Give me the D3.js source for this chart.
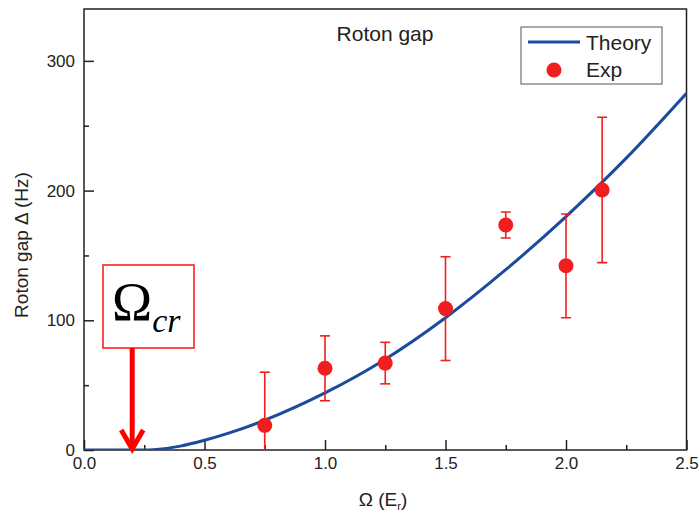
<html>
<head>
<script src="https://d3js.org/d3.v7.min.js"></script>
<style>
  body { margin: 0; background: #fff; }
  text { font-family: Arial, "Liberation Sans", sans-serif; fill: #222; }
</style>
</head>
<body>
<div id="output"></div>
<script>
    var width = 700, height = 518;
    var margin = {left: 84, right: 13.5, top: 9, bottom: 68};

    // experiment: omega, gap, error
    var expOmega = [0.75, 1.0, 1.25, 1.5, 1.75, 2.0, 2.15];
    var expGap   = [19, 63, 67, 109, 173.5, 142, 200.5];
    var expErr   = [41, 25, 16, 40, 10, 40, 56];

    // theory curve
    var thOmega = [0, 0.25, 0.3, 0.4, 0.5, 0.6, 0.75, 1.0, 1.25, 1.5, 1.75, 2.0, 2.25, 2.5];
    var thGap   = [0, 0, 0.4, 3, 7.5, 13, 23, 44, 70, 102, 139, 180, 225, 275];

    var xTicks = [0, 0.5, 1.0, 1.5, 2.0, 2.5];
    var xMinor = [0.25, 0.75, 1.25, 1.75, 2.25];
    var yTicks = [0, 100, 200, 300];
    var yMinor = [50, 150, 250];

    var omegaCr = 0.2;

    var blue = '#1a4b9c';
    var red = '#f01e1e';

    var svg = d3.select('#output').append('svg')
        .attr('width', width)
        .attr('height', height);

    var x = d3.scaleLinear().domain([0, 2.5]).range([margin.left, width - margin.right]);
    var y = d3.scaleLinear().domain([0, 340]).range([height - margin.bottom, margin.top]);

    svg.append('clipPath').attr('id', 'plot')
        .append('rect')
        .attr('x', x(0)).attr('y', y(340))
        .attr('width', x(2.5) - x(0)).attr('height', y(0) - y(340));

    // axes with inward ticks
    var xAxis = svg.append('g').attr('transform', 'translate(0,' + y(0) + ')')
        .call(d3.axisBottom(x).tickValues(xTicks).tickFormat(d3.format('.1f')).tickSizeInner(-10).tickSizeOuter(0).tickPadding(16));
    xAxis.selectAll('.tick').data(xMinor, function(d) { return d; });
    svg.append('g').attr('transform', 'translate(0,' + y(0) + ')')
        .call(d3.axisBottom(x).tickValues(xMinor).tickFormat('').tickSizeInner(-5).tickSizeOuter(0))
        .select('.domain').remove();

    var yAxis = svg.append('g').attr('transform', 'translate(' + x(0) + ',0)')
        .call(d3.axisLeft(y).tickValues(yTicks).tickSizeInner(-10).tickSizeOuter(0).tickPadding(9));
    svg.append('g').attr('transform', 'translate(' + x(0) + ',0)')
        .call(d3.axisLeft(y).tickValues(yMinor).tickFormat('').tickSizeInner(-5).tickSizeOuter(0))
        .select('.domain').remove();

    svg.selectAll('.tick line').attr('stroke', '#222').attr('stroke-width', 1.5);
    svg.selectAll('.tick text').style('font-size', '17px').attr('fill', '#222');
    xAxis.selectAll('.tick text').attr('dy', '0.2em');

    // frame
    svg.append('rect')
        .attr('x', x(0)).attr('y', y(340))
        .attr('width', x(2.5) - x(0)).attr('height', y(0) - y(340))
        .attr('fill', 'none').attr('stroke', '#222').attr('stroke-width', 1.5);
    svg.selectAll('.domain').remove();

    var plot = svg.append('g').attr('clip-path', 'url(#plot)');

    // theory
    var line = d3.line()
        .x(function(d, i) { return x(thOmega[i]); })
        .y(function(d) { return y(d); })
        .curve(d3.curveMonotoneX);
    plot.append('path')
        .attr('d', line(thGap))
        .attr('fill', 'none')
        .attr('stroke', blue)
        .attr('stroke-width', 3);

    // error bars
    var bars = plot.selectAll('.err').data(expGap).enter().append('g');
    bars.append('line')
        .attr('x1', function(d, i) { return x(expOmega[i]); })
        .attr('x2', function(d, i) { return x(expOmega[i]); })
        .attr('y1', function(d, i) { return y(d - expErr[i]); })
        .attr('y2', function(d, i) { return y(d + expErr[i]); })
        .attr('stroke', red).attr('stroke-width', 1.6);
    [1, -1].forEach(function(s) {
        bars.append('line')
            .attr('x1', function(d, i) { return x(expOmega[i]) - 5; })
            .attr('x2', function(d, i) { return x(expOmega[i]) + 5; })
            .attr('y1', function(d, i) { return y(d + s * expErr[i]); })
            .attr('y2', function(d, i) { return y(d + s * expErr[i]); })
            .attr('stroke', red).attr('stroke-width', 1.6);
    });
    plot.selectAll('.pt').data(expGap).enter().append('circle')
        .attr('cx', function(d, i) { return x(expOmega[i]); })
        .attr('cy', function(d) { return y(d); })
        .attr('r', 7.5)
        .attr('fill', red);

    // title
    svg.append('text')
        .attr('x', 385).attr('y', 41)
        .attr('text-anchor', 'middle')
        .style('font-size', '21px')
        .text('Roton gap');

    // legend
    svg.append('rect')
        .attr('x', 521).attr('y', 27).attr('width', 141).attr('height', 57)
        .attr('fill', '#fff').attr('stroke', '#555').attr('stroke-width', 1);
    svg.append('line')
        .attr('x1', 528).attr('x2', 580).attr('y1', 42).attr('y2', 42)
        .attr('stroke', blue).attr('stroke-width', 3);
    svg.append('text').attr('x', 586).attr('y', 50).style('font-size', '21px').text('Theory');
    svg.append('circle').attr('cx', 554).attr('cy', 70).attr('r', 7.5).attr('fill', red);
    svg.append('text').attr('x', 586).attr('y', 77).style('font-size', '21px').text('Exp');

    // axis labels
    svg.append('text')
        .attr('transform', 'translate(28,245) rotate(-90)')
        .attr('text-anchor', 'middle')
        .style('font-size', '19px')
        .text('Roton gap \u0394 (Hz)');

    var xl = svg.append('text')
        .attr('x', 383).attr('y', 506)
        .attr('text-anchor', 'middle')
        .style('font-size', '19px');
    xl.append('tspan').text('\u03A9 (E');
    xl.append('tspan').attr('dy', 4).style('font-size', '11px').text('r');
    xl.append('tspan').attr('dy', -4).text(')');

    // omega_cr annotation
    var ax = x(omegaCr);
    svg.append('rect')
        .attr('x', 103).attr('y', 265).attr('width', 91).attr('height', 83)
        .attr('fill', '#fff').attr('stroke', '#ff1010').attr('stroke-width', 1.5);
    var om = svg.append('text')
        .attr('x', 112).attr('y', 320)
        .style('font-family', '"Liberation Serif", "Times New Roman", serif')
        .attr('fill', '#000');
    om.append('tspan').style('font-size', '54px').style('fill', '#000').text('\u03A9');
    om.append('tspan').attr('dy', 12).style('font-size', '34px').style('font-style', 'italic').style('fill', '#000').text('cr');

    svg.append('line')
        .attr('x1', ax).attr('x2', ax).attr('y1', 348).attr('y2', y(0) - 3)
        .attr('stroke', '#ff0000').attr('stroke-width', 5);
    svg.append('path')
        .attr('d', 'M' + (ax - 11) + ',' + (y(0) - 20) + 'L' + ax + ',' + (y(0) - 1) + 'L' + (ax + 11) + ',' + (y(0) - 20))
        .attr('fill', 'none').attr('stroke', '#ff0000').attr('stroke-width', 5)
        .attr('stroke-linejoin', 'miter');
</script>
</body>
</html>
